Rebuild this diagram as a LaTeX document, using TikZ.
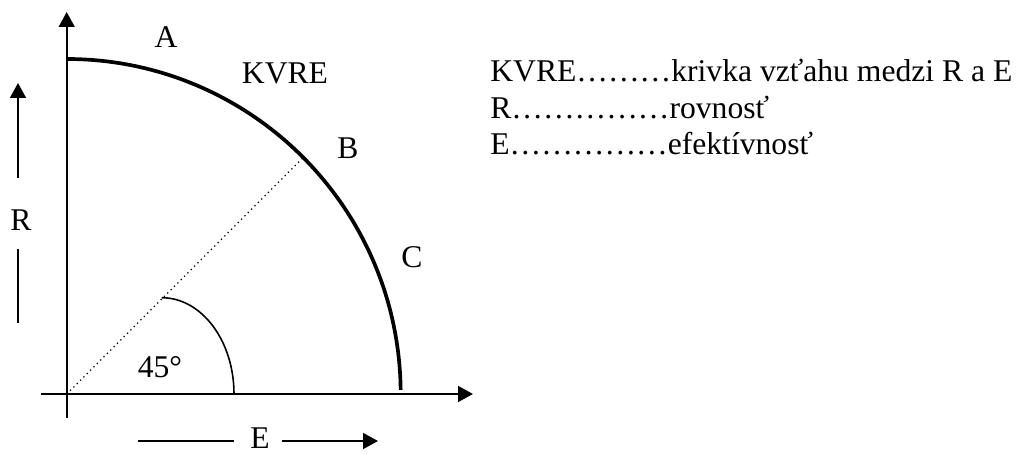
\documentclass[tikz,border=0pt]{standalone}
\usepackage{fontspec}
\setmainfont{Liberation Serif}
\usetikzlibrary{arrows.meta}
\tikzset{
  txt/.style    ={inner sep=0pt, font=\fontsize{18}{21}\selectfont},
  axis/.style   ={line width=1.1pt, -{Triangle[length=8.5pt,width=9pt]}},
  guide/.style  ={line width=1.1pt},
  kvre/.style   ={line width=2.1pt},
  ray/.style    ={line width=0.7pt, dotted},
  angarc/.style ={line width=0.9pt},
  legend/.style ={txt, anchor=base west},
}
\def\legendlist{lK/371/KVRE………krivka vzťahu medzi R a E,
                lR/334/R……………rovnosť,
                lE/298/E……………efektívnosť}

\begin{document}
\begin{tikzpicture}[x=0.02cm,y=0.02cm]
\useasboundingbox (0,0) rectangle (1020,453);
% axes
\coordinate (O) at (66.7,59);
\coordinate (xs) at (41,59);
\coordinate (xe) at (473,59);
\coordinate (ys) at (66.7,35);
\coordinate (ye) at (66.7,441);
\draw[axis] (xs) -- (xe);
\draw[axis] (ys) -- (ye);
% the curve and the 45 degree ray
\coordinate (top) at (66.7,394);
\coordinate (Bpt) at (304.7,297);
\draw[kvre] (top) arc[start angle=90, end angle=0.7, x radius=334, y radius=335];
\draw[ray] (O) -- (Bpt);
\coordinate (ang) at (161.7,155.3);
\draw[angarc] (ang) arc[start angle=90, end angle=0, x radius=72.3, y radius=96.3];
% side arrows
\node[txt] (R) at (21,233) {R};
\coordinate (Rlo) at (18,130);
\coordinate (Rmid) at (18,204);
\coordinate (Rhi) at (18,275);
\coordinate (Rtip) at (18,370);
\draw[guide] (Rlo) -- (Rmid);
\draw[axis] (Rhi) -- (Rtip);
\node[txt] (E) at (260,14.5) {E};
\coordinate (Elo) at (138,12);
\coordinate (Emid) at (234,12);
\coordinate (Ehi) at (282,12);
\coordinate (Etip) at (378,12);
\draw[guide] (Elo) -- (Emid);
\draw[axis] (Ehi) -- (Etip);
% labels
\node[txt] (A) at (166,416) {A};
\node[txt] (K) at (285,380) {KVRE};
\node[txt] (B) at (348,305) {B};
\node[txt] (C) at (412,196) {C};
\node[txt] (deg) at (160,86) {45°};
% legend
\foreach \n/\y/\t in \legendlist {\node[legend] (\n) at (490,\y) {\t};}
\end{tikzpicture}
\end{document}
